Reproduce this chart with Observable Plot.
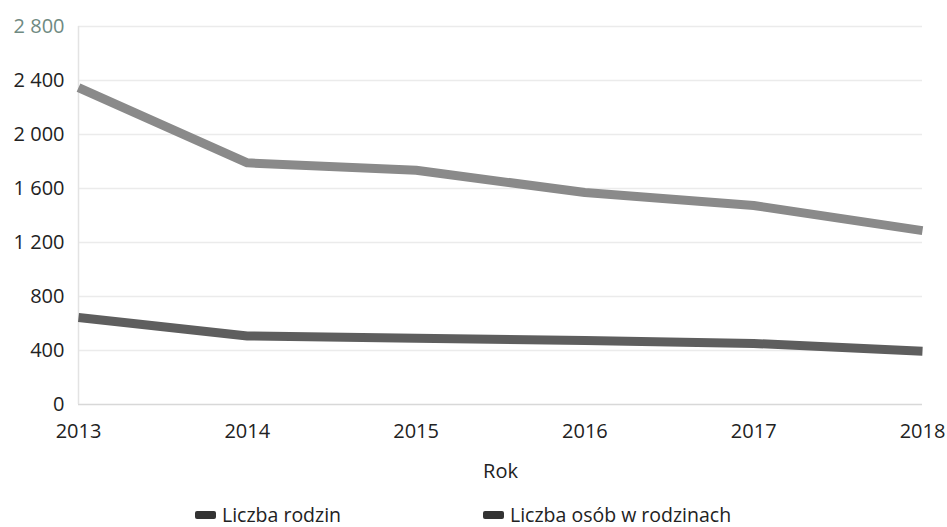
<!DOCTYPE html>
<html>
<head>
<meta charset="utf-8">
<script src="https://cdn.jsdelivr.net/npm/d3@7"></script>
<script src="https://cdn.jsdelivr.net/npm/@observablehq/plot@0.6"></script>
<style>
  body { margin: 0; background: #fff; font-family: "Open Sans", sans-serif; }
  #wrap { position: relative; width: 947px; height: 527px; overflow: hidden; }
  #chart { position: absolute; left: 0; top: 0; }
  .item { position: absolute; display: flex; align-items: center; font-size: 19.5px; color: #222; line-height: 20px; height: 20px; }
  .sw { width: 21px; height: 8px; border-radius: 2px; margin-right: 6px; }
</style>
</head>
<body>
<div id="wrap">
<div id="chart"></div>
</div>
<script>
const years = [2013, 2014, 2015, 2016, 2017, 2018];
const liczbaRodzin = [644, 508, 490, 474, 452, 395];
const liczbaOsob = [2348, 1790, 1735, 1570, 1474, 1288];
const yTicks = [0, 400, 800, 1200, 1600, 2000, 2400, 2800];
const seriesNames = ["Liczba rodzin", "Liczba osób w rodzinach"];
const seriesColors = ["#5e5e5e", "#8a8a8a"];

const data = [
  ...years.map((y, i) => ({year: y, value: liczbaRodzin[i], series: seriesNames[0]})),
  ...years.map((y, i) => ({year: y, value: liczbaOsob[i], series: seriesNames[1]}))
];

const fmt = v => d3.format(",")(v).replace(/,/g, " ");

const plot = Plot.plot({
  width: 947,
  height: 495,
  marginLeft: 78,
  marginRight: 25,
  marginTop: 26,
  marginBottom: 91,
  style: {fontFamily: "Open Sans, sans-serif", fontSize: "20px", color: "#222", background: "#fff"},
  x: {domain: [2013, 2018]},
  y: {domain: [0, 2800]},
  color: {domain: seriesNames, range: seriesColors},
  marks: [
    Plot.gridY(yTicks.filter(d => d > 0), {stroke: "#ebebeb", strokeOpacity: 1, strokeWidth: 1.5}),
    Plot.ruleY([0], {stroke: "#d8d8d8", strokeWidth: 1.5}),
    Plot.ruleX([2013], {stroke: "#e3e3e3", strokeWidth: 1.5}),
    Plot.axisY({ticks: yTicks, tickFormat: fmt, tickSize: 0, tickPadding: 14, fontSize: 20, fill: d => d === 2800 ? "#6f8a82" : "#222", label: null}),
    Plot.axisX({ticks: years, tickFormat: d => String(d), tickSize: 0, tickPadding: 19, fontSize: 20, label: "Rok", labelArrow: "none", labelAnchor: "center", labelOffset: 73}),
    Plot.line(data, {x: "year", y: "value", z: "series", stroke: "series", strokeWidth: 9, strokeLinecap: "butt", strokeLinejoin: "round"})
  ]
});
document.getElementById("chart").appendChild(plot);

const wrap = document.getElementById("wrap");
const lefts = [195, 483];
seriesNames.forEach((n, i) => {
  const it = document.createElement("div");
  it.className = "item";
  it.style.left = lefts[i] + "px";
  it.style.top = "505px";
  it.innerHTML = `<span class="sw" style="background:#333"></span><span>${n}</span>`;
  wrap.appendChild(it);
});
</script>
</body>
</html>
